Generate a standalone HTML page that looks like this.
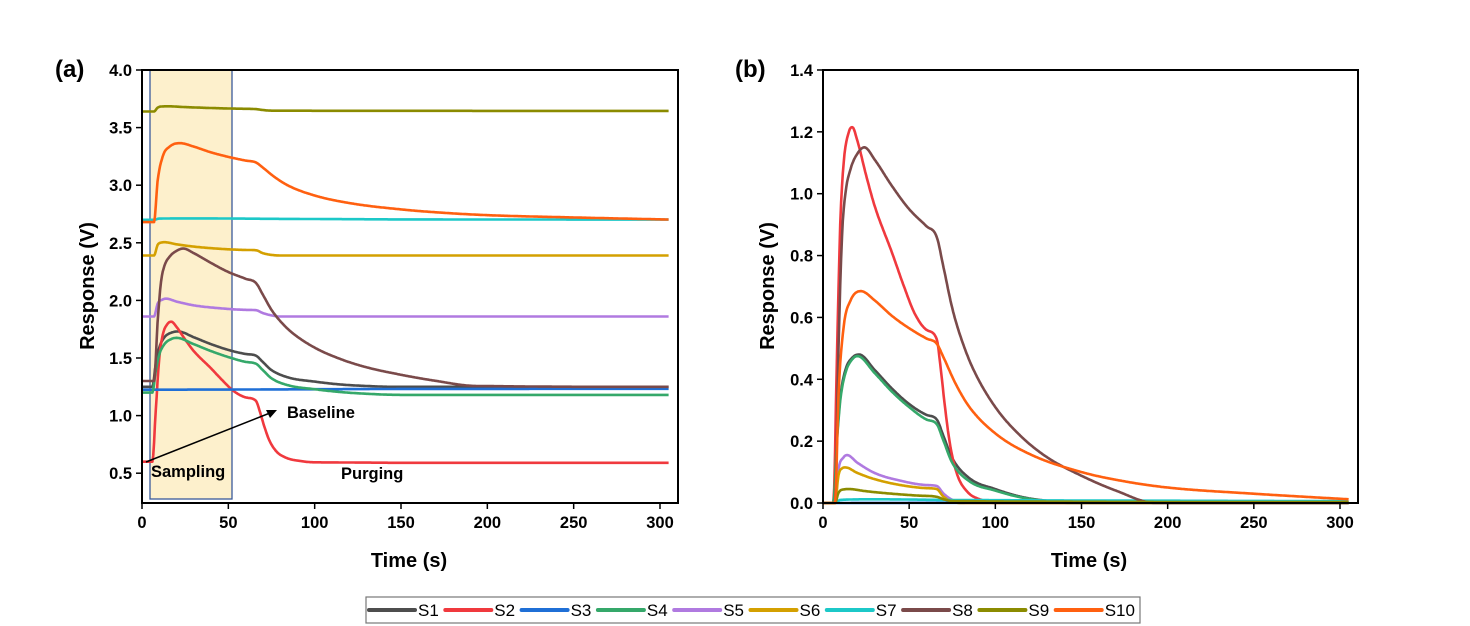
<!DOCTYPE html>
<html><head><meta charset="utf-8"><style>
html,body{margin:0;padding:0;background:#fff;}
svg{display:block;font-family:"Liberation Sans",Arial,sans-serif;}
.tk{font-size:16.5px;font-weight:bold;fill:#000;}
.ttl{font-size:20px;font-weight:bold;fill:#000;}
.pl{font-size:24px;font-weight:bold;fill:#000;}
.ann{font-size:16.5px;font-weight:bold;fill:#000;}
.lg{font-size:17px;fill:#000;}
</style></head><body>
<svg id="s" width="1470" height="626" viewBox="0 0 1470 626" xmlns="http://www.w3.org/2000/svg">
<rect width="1470" height="626" fill="#fff"/>
<rect x="150" y="70" width="82" height="429" fill="#fdf0cc" stroke="#3a5a9a" stroke-width="1.3"/>
<g id="ca"></g>
<g id="cb"></g>
<rect x="142" y="70" width="536" height="433" fill="none" stroke="#000" stroke-width="2"/>
<rect x="823" y="70" width="535" height="433" fill="none" stroke="#000" stroke-width="2"/>
<g id="ticks"></g>
<line x1="146" y1="462" x2="270" y2="413" stroke="#000" stroke-width="1.5"/>
<polygon points="277,410 266,410 270,418" fill="#000"/>
<text class="ann" x="151" y="477">Sampling</text>
<text class="ann" x="287" y="418">Baseline</text>
<text class="ann" x="341" y="479">Purging</text>
<text class="pl" x="55" y="77">(a)</text>
<text class="pl" x="735" y="77">(b)</text>
<text class="ttl" x="409" y="567" text-anchor="middle">Time (s)</text>
<text class="ttl" x="1089" y="567" text-anchor="middle">Time (s)</text>
<text class="ttl" transform="translate(94,286) rotate(-90)" text-anchor="middle">Response (V)</text>
<text class="ttl" transform="translate(774,286) rotate(-90)" text-anchor="middle">Response (V)</text>
<rect x="366" y="597" width="774" height="26" fill="#fff" stroke="#777" stroke-width="1.2"/>
<g id="leg"></g>
</svg>
<script>
var NS="http://www.w3.org/2000/svg";
function el(p,n,a,t){var e=document.createElementNS(NS,n);for(var k in a)e.setAttribute(k,a[k]);if(t!==undefined)e.textContent=t;document.getElementById(p).appendChild(e);return e;}
var cols=["#4d4d4d","#f0393e","#1f6fd6","#35a86a","#b07ae0","#d4a000","#1cc8c8","#7a4a4a","#8b8b00","#ff6010"];
var R=[
[[0,0],[6,0],[8,0.2],[10,0.34],[13,0.43],[17,0.47],[21,0.48],[30,0.43],[40,0.37],[50,0.32],[60,0.285],[66,0.27],[70,0.215],[75,0.145],[85,0.08],[100,0.045],[115,0.02],[130,0.007],[145,0],[305,0]],
[[0,0],[6,0],[8,0.45],[10,0.9],[12,1.1],[15,1.2],[17,1.215],[20,1.17],[25,1.06],[30,0.96],[40,0.81],[47,0.7],[53,0.615],[60,0.56],[66,0.53],[68,0.45],[71,0.3],[74,0.18],[78,0.09],[84,0.035],[92,0.01],[100,0],[305,0]],
[[0,0],[305,0.003]],
[[0,0],[6,0],[8,0.19],[10,0.33],[13,0.42],[17,0.465],[20,0.475],[30,0.42],[40,0.36],[50,0.31],[60,0.27],[66,0.255],[70,0.2],[75,0.13],[85,0.07],[100,0.04],[115,0.018],[130,0.006],[145,0],[305,0]],
[[0,0],[7,0],[9,0.11],[12,0.148],[14,0.155],[20,0.13],[30,0.097],[45,0.072],[60,0.058],[66,0.055],[70,0.03],[75,0.01],[80,0],[305,0]],
[[0,0],[7,0],[9,0.09],[11,0.112],[13,0.115],[20,0.097],[30,0.077],[45,0.058],[60,0.048],[66,0.045],[70,0.02],[75,0.005],[80,0],[305,0]],
[[0,0],[7,0],[10,0.01],[30,0.012],[70,0.01],[305,0.006]],
[[0,0],[7,0],[9,0.5],[11,0.86],[13,1.0],[16,1.08],[20,1.13],[24,1.15],[30,1.11],[40,1.025],[50,0.95],[60,0.895],[66,0.86],[70,0.76],[75,0.63],[80,0.535],[87,0.435],[100,0.31],[115,0.215],[130,0.148],[150,0.088],[170,0.04],[193,0],[305,0]],
[[0,0],[7,0],[9,0.033],[12,0.044],[15,0.045],[25,0.038],[40,0.03],[55,0.024],[66,0.02],[70,0.012],[76,0.006],[305,0.003]],
[[0,0],[7,0],[9,0.35],[12,0.57],[16,0.655],[22,0.685],[30,0.655],[40,0.605],[50,0.565],[60,0.532],[66,0.515],[70,0.47],[77,0.385],[85,0.31],[100,0.225],[120,0.158],[150,0.1],[175,0.07],[200,0.05],[250,0.03],[305,0.012]]
];
var B=[[1.25,1.25],[0.6,0.59],[1.225,1.23],[1.2,1.18],[1.86,1.86],[2.39,2.39],[2.70,2.695],[1.3,1.25],[3.64,3.642],[2.68,2.69]];
function mono(P){var n=P.length,d=[],m=[];for(var i=0;i<n-1;i++)d.push((P[i+1][1]-P[i][1])/(P[i+1][0]-P[i][0]));
m[0]=d[0];m[n-1]=d[n-2];for(i=1;i<n-1;i++){m[i]=(d[i-1]*d[i]<=0)?0:(d[i-1]+d[i])/2;}
for(i=0;i<n-1;i++){if(d[i]==0){m[i]=0;m[i+1]=0;continue;}var a=m[i]/d[i],b=m[i+1]/d[i],s=a*a+b*b;if(s>9){var t=3/Math.sqrt(s);m[i]=t*a*d[i];m[i+1]=t*b*d[i];}}
return function(x){for(var i=0;i<n-1;i++){if(x<=P[i+1][0])break;}if(i>=n-1)i=n-2;var h=P[i+1][0]-P[i][0],t=(x-P[i][0])/h,t2=t*t,t3=t2*t;
return (2*t3-3*t2+1)*P[i][1]+(t3-2*t2+t)*h*m[i]+(-2*t3+3*t2)*P[i+1][1]+(t3-t2)*h*m[i+1];};}
function xa(t){return 142+t*518/300;} function ya(v){return 70+(4-v)*115.2;}
function xb(t){return 823+t*517/300;} function yb(v){return 503-v*309.3;}
for(var k=0;k<10;k++){var f=mono(R[k]),pa="",pb="";
for(var t=0;t<=305;t+=0.5){var r=Math.max(0,f(t));var span=(k==7)?220:110;var fr=Math.min(1,Math.max(0,(t-40)/span));
if(k==7)fr=1-Math.pow(1-fr,1.6);
var base=B[k][0]+(B[k][1]-B[k][0])*fr;
pa+=(t?"L":"M")+xa(t).toFixed(1)+","+ya(base+r).toFixed(1);
pb+=(t?"L":"M")+xb(t).toFixed(1)+","+yb(r).toFixed(1);}
el("ca","path",{d:pa,fill:"none",stroke:cols[k],"stroke-width":2.6,"stroke-linejoin":"round"});
el("cb","path",{d:pb,fill:"none",stroke:cols[k],"stroke-width":2.6,"stroke-linejoin":"round"});}
for(var i=0;i<=6;i++){var t=i*50;
el("ticks","line",{x1:xa(t),y1:503,x2:xa(t),y2:509,stroke:"#000","stroke-width":1.5});
el("ticks","text",{x:xa(t),y:528,"text-anchor":"middle","class":"tk"},String(t));
el("ticks","line",{x1:xb(t),y1:503,x2:xb(t),y2:509,stroke:"#000","stroke-width":1.5});
el("ticks","text",{x:xb(t),y:528,"text-anchor":"middle","class":"tk"},String(t));}
for(var v=0.5;v<=4.01;v+=0.5){var y=ya(v);
el("ticks","line",{x1:136,y1:y,x2:142,y2:y,stroke:"#000","stroke-width":1.5});
el("ticks","text",{x:132,y:y+6,"text-anchor":"end","class":"tk"},v.toFixed(1));}
for(var j=0;j<=7;j++){var v=j*0.2,y=yb(v);
el("ticks","line",{x1:817,y1:y,x2:823,y2:y,stroke:"#000","stroke-width":1.5});
el("ticks","text",{x:813,y:y+6,"text-anchor":"end","class":"tk"},v.toFixed(1));}
for(var k=0;k<10;k++){var x0=369+k*76.3;
el("leg","line",{x1:x0,y1:610,x2:x0+46,y2:610,stroke:cols[k],"stroke-width":4,"stroke-linecap":"round"});
el("leg","text",{x:x0+49,y:616,"class":"lg"},"S"+(k+1));}
</script>
</body></html>
